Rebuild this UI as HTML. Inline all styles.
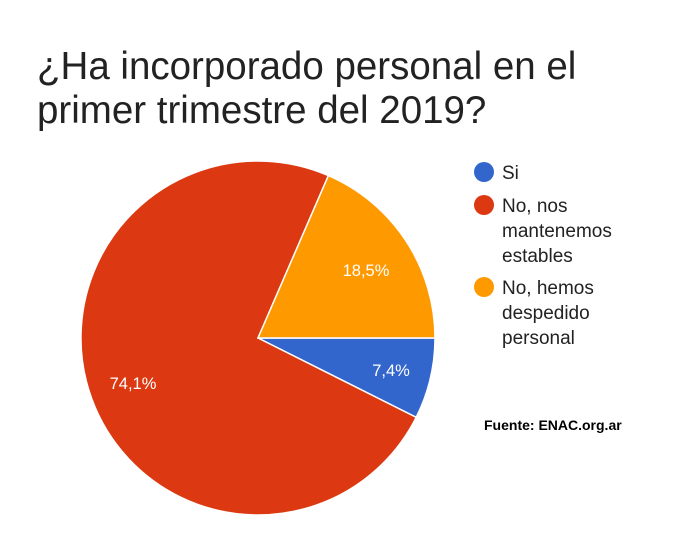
<!DOCTYPE html>
<html><head><meta charset="utf-8"><style>
body{margin:0;background:#fff;}
svg text{font-family:"Liberation Sans",sans-serif;}
</style></head><body>
<svg width="700" height="536" viewBox="0 0 700 536" xmlns="http://www.w3.org/2000/svg">
<rect width="700" height="536" fill="#fff"/>
<text x="37" y="79" font-size="38.5" fill="#222">¿Ha incorporado personal en el</text>
<text x="37" y="123" font-size="38.5" fill="#222">primer trimestre del 2019?</text>
<path d="M258,338 L435,338 A177,177 0 0 1 416.2,417.3 Z" fill="#3366cc" stroke="#fff" stroke-width="1.5"/>
<path d="M258,338 L416.2,417.3 A177,177 0 1 1 328.4,175.6 Z" fill="#dc3912" stroke="#fff" stroke-width="1.5"/>
<path d="M258,338 L328.4,175.6 A177,177 0 0 1 435,338 Z" fill="#ff9900" stroke="#fff" stroke-width="1.5"/>
<text x="366" y="276" font-size="16.5" fill="#fff" text-anchor="middle">18,5%</text>
<text x="391" y="376" font-size="16.5" fill="#fff" text-anchor="middle">7,4%</text>
<text x="133" y="389" font-size="16.5" fill="#fff" text-anchor="middle">74,1%</text>
<circle cx="484" cy="172" r="10" fill="#3366cc"/>
<circle cx="484" cy="205" r="10" fill="#dc3912"/>
<circle cx="484" cy="287" r="10" fill="#ff9900"/>
<g font-size="19" fill="#222">
<text x="502" y="179">Si</text>
<text x="502" y="212">No, nos</text>
<text x="502" y="237">mantenemos</text>
<text x="502" y="262">estables</text>
<text x="502" y="294">No, hemos</text>
<text x="502" y="319">despedido</text>
<text x="502" y="344">personal</text>
</g>
<text x="484" y="430" font-size="14" font-weight="bold" fill="#000">Fuente: ENAC.org.ar</text>
</svg>
</body></html>
